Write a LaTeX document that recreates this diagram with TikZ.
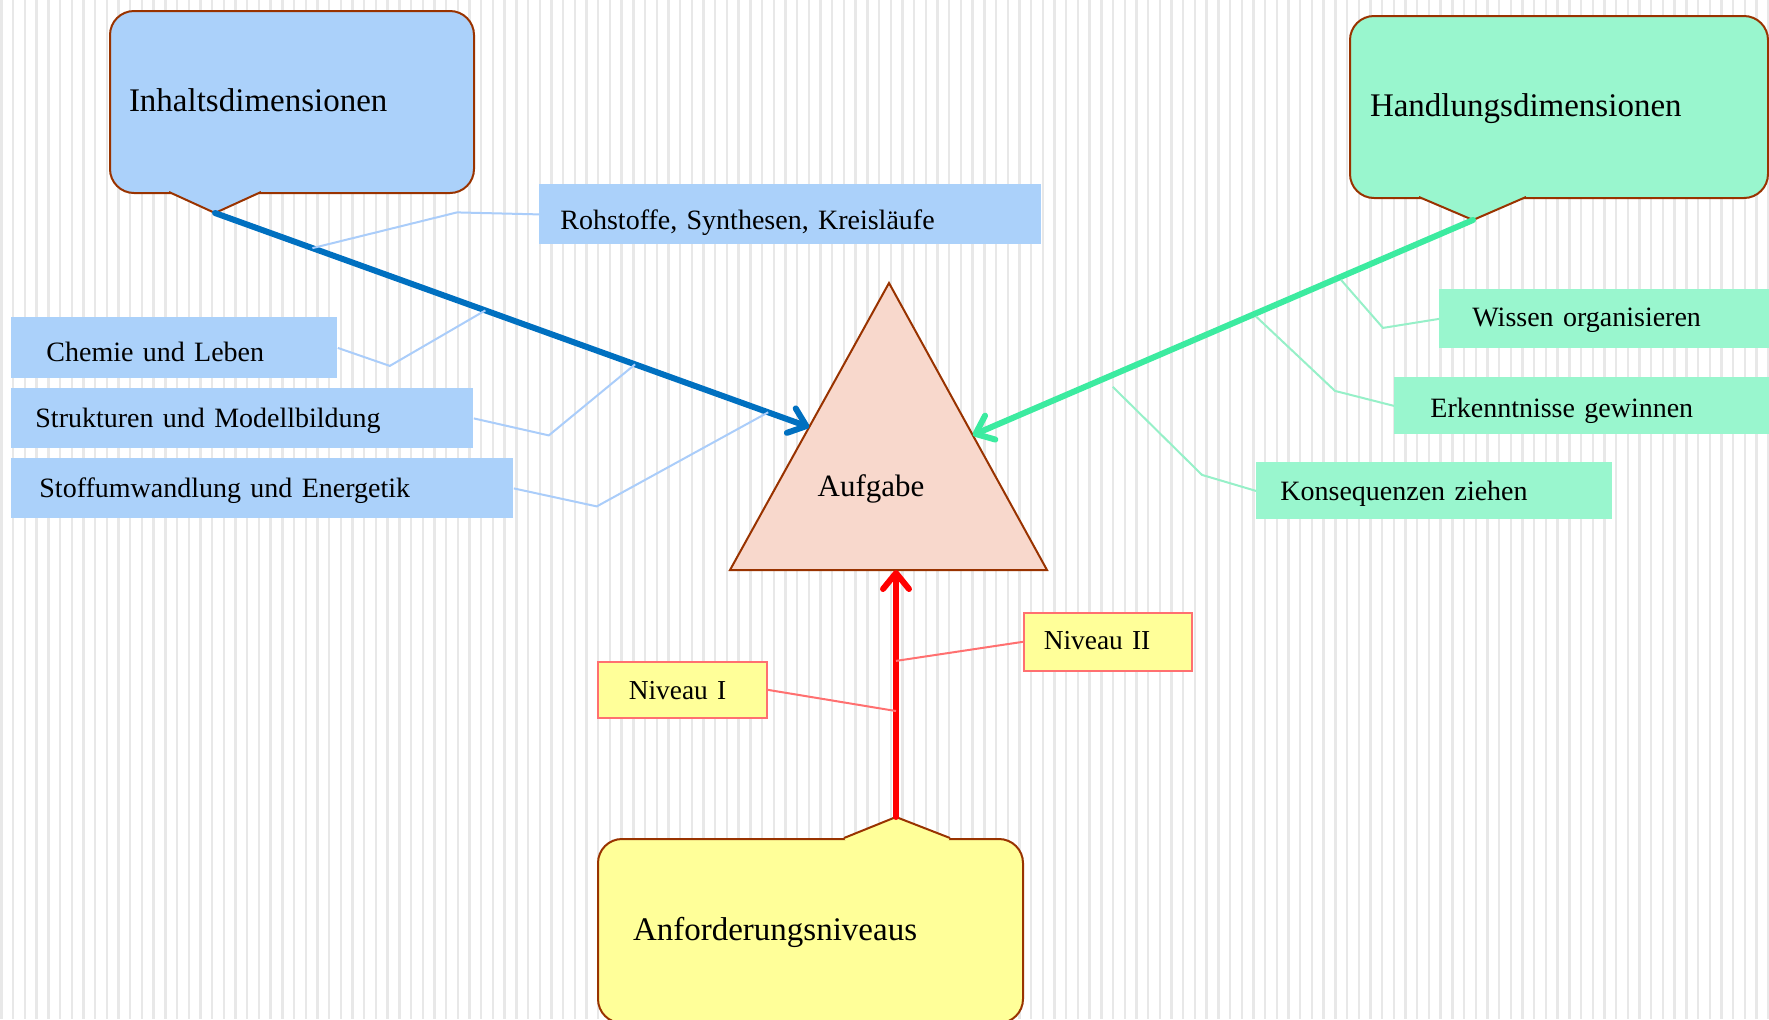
\documentclass[tikz,border=0pt]{standalone}
\usepackage{fontspec}
\setmainfont{Liberation Serif}
\usetikzlibrary{arrows.meta,calc}

\definecolor{inhblue}{RGB}{171,209,250}
\definecolor{hndgreen}{RGB}{153,246,206}
\definecolor{anfyellow}{RGB}{255,255,153}
\definecolor{rimbrown}{RGB}{153,51,0}
\definecolor{aufpeach}{RGB}{248,216,204}
\definecolor{arrblue}{RGB}{0,112,192}
\definecolor{arrgreen}{RGB}{60,235,160}
\definecolor{nivred}{RGB}{255,112,112}
\definecolor{lineblue}{RGB}{170,205,250}
\definecolor{linegreen}{RGB}{150,240,200}
\definecolor{stripe}{RGB}{232,232,232}

\begin{document}
\begin{tikzpicture}[x=0.5pt, y=-0.5pt,
    bubble/.style={draw=rimbrown, line width=1pt, rounded corners=12pt, anchor=north west,
      minimum height=91pt, align=left, text height=12.4pt, text depth=2.5pt,
      font=\fontsize{16.5}{19}\selectfont},
    tongue/.style={draw=rimbrown, line width=1pt},
    lblbox/.style={anchor=north west, minimum height=30pt, align=left,
      text height=11pt, text depth=1.5pt, font=\fontsize{14}{16}\selectfont},
    nivbox/.style={lblbox, fill=anfyellow, draw=nivred, line width=0.8pt,
      font=\fontsize{13.7}{16}\selectfont},
    bigarrow/.style={line width=3pt, line cap=round,
      -{Straight Barb[length=8pt,width=13pt,round]}},
    leader/.style={line width=1pt}]

  \useasboundingbox (0,0) rectangle (1769,1019);
  \clip (0,0) rectangle (1769,1019);
  \fill[white] (0,0) rectangle (1769,1019);
  \foreach \k in {0,...,151}
    \draw[stripe, line width=1.2pt] (1.5+11.7*\k,0) -- ++(0,1019);

  \node[bubble, fill=inhblue, inner xsep=9.5pt, text width=163pt] at (109,10) (inh) {Inhaltsdimensionen};
  \fill[inhblue] (169,192) -- (215,213) -- (261,192) -- (259,189) -- (171,189) -- cycle;
  \draw[tongue] (169,192) -- (215,213) -- (261,192);
  \coordinate (inh-tip) at (215,213);

  \node[bubble, fill=hndgreen, inner xsep=10pt, text width=189pt] at (1349,15) (hnd) {Handlungsdimensionen};
  \fill[hndgreen] (1419,197) -- (1473,220) -- (1526,197) -- (1524,194) -- (1421,194) -- cycle;
  \draw[tongue] (1419,197) -- (1473,220) -- (1526,197);
  \coordinate (hnd-tip) at (1473,220);

  \node[bubble, fill=anfyellow, inner xsep=17.5pt, text width=177.5pt, minimum height=92pt] at (597,838) (anf) {Anforderungsniveaus};
  \fill[anfyellow] (844,838) -- (896,817) -- (950,838) -- (948,841) -- (846,841) -- cycle;
  \draw[tongue] (844,838) -- (896,817) -- (950,838);
  \coordinate (anf-tip) at (896,817);

  \coordinate (auf-top) at (889,283);
  \coordinate (auf-bl) at (730,570);
  \coordinate (auf-br) at (1047,570);
  \draw[rimbrown, fill=aufpeach, line width=1pt] (auf-top) -- (auf-bl) -- (auf-br) -- cycle;
  \node[font=\fontsize{15.5}{18}\selectfont] at (871,489) (auf) {Aufgabe};
  \coordinate (auf-l) at ($(auf-top)!0.502!(auf-bl)$);
  \coordinate (auf-r) at ($(auf-top)!0.53!(auf-br)$);
  \coordinate (auf-b) at (896,570);

  \draw[bigarrow, arrblue] (inh-tip) -- (auf-l);
  \draw[bigarrow, arrgreen] (hnd-tip) -- (auf-r);
  \draw[bigarrow, red] (anf-tip) -- (auf-b);

  \node[lblbox, fill=inhblue, inner xsep=10.5pt, text width=230pt, text height=16.6pt] at (539,184) (roh) {Rohstoffe, Synthesen, Kreisläufe};
  \node[lblbox, fill=inhblue, inner xsep=17.5pt, text width=128pt, minimum height=30.5pt, text height=15.5pt] at (11,317) (che) {Chemie und Leben};
  \node[lblbox, fill=inhblue, inner xsep=12pt, text width=207pt] at (11,388) (str) {Strukturen und Modellbildung};
  \node[lblbox, fill=inhblue, inner xsep=14pt, text width=223pt] at (11,458) (sto) {Stoffumwandlung und Energetik};

  \node[lblbox, fill=hndgreen, inner xsep=16.5pt, text width=135pt, minimum height=29.5pt, text height=8.8pt] at (1439,289) (wis) {Wissen organisieren};
  \node[lblbox, fill=hndgreen, inner xsep=18pt, text width=154.5pt, minimum height=28.5pt, text height=13.2pt] at (1394,377) (erk) {Erkenntnisse gewinnen};
  \node[lblbox, fill=hndgreen, inner xsep=12pt, text width=154pt, minimum height=28.5pt] at (1256,462) (kon) {Konsequenzen ziehen};

  \node[nivbox, inner xsep=15.5pt, text width=53.5pt, minimum height=28pt] at (597,661) (niv1) {Niveau I};
  \node[nivbox, inner xsep=10pt, text width=64pt, minimum height=29pt, text height=8.8pt] at (1023,612) (niv2) {Niveau II};

  \draw[leader, lineblue] (roh.west) -- ++(-82,-2) -- ($(inh-tip)!0.164!(auf-l)$);
  \draw[leader, lineblue] (che.east) -- ++(52,18) -- ($(inh-tip)!0.455!(auf-l)$);
  \draw[leader, lineblue] (str.east) -- ++(75,17) -- ($(inh-tip)!0.707!(auf-l)$);
  \draw[leader, lineblue] (sto.east) -- ++(83,18) -- ($(inh-tip)!0.931!(auf-l)$);

  \draw[leader, linegreen] (wis.west) -- ++(-56,9) -- ($(hnd-tip)!0.264!(auf-r)+(0,3)$);
  \draw[leader, linegreen] (erk.west) -- ++(-59,-15) -- ($(hnd-tip)!0.434!(auf-r)+(0,3)$);
  \draw[leader, linegreen] (kon.west) -- ++(-54,-16) -- ($(hnd-tip)!0.72!(auf-r)+(0,12)$);

  \draw[leader, nivred] (niv1.east) -- ($(anf-tip)!0.429!(auf-b)$);
  \draw[leader, nivred] (niv2.west) -- ($(anf-tip)!0.632!(auf-b)$);
\end{tikzpicture}
\end{document}
